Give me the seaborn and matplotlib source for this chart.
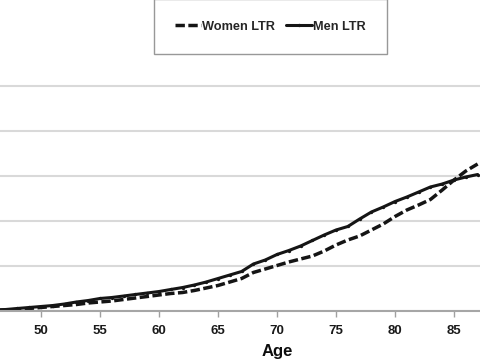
import matplotlib
matplotlib.use("Agg")
import matplotlib.pyplot as plt
import seaborn as sns
import pandas as pd

ages = list(range(46, 88))
women_ltr = [0.011, 0.022, 0.033, 0.056, 0.078, 0.100, 0.122, 0.144, 0.178, 0.200,
             0.222, 0.256, 0.289, 0.322, 0.356, 0.389, 0.411, 0.456, 0.511, 0.567,
             0.644, 0.722, 0.856, 0.933, 1.011, 1.089, 1.156, 1.222, 1.333, 1.467,
             1.578, 1.667, 1.800, 1.933, 2.100, 2.244, 2.356, 2.478, 2.689, 2.911,
             3.111, 3.267]
men_ltr = [0.022, 0.033, 0.056, 0.078, 0.100, 0.122, 0.156, 0.200, 0.233, 0.278,
           0.300, 0.333, 0.367, 0.400, 0.433, 0.478, 0.522, 0.578, 0.644, 0.722,
           0.800, 0.878, 1.044, 1.133, 1.256, 1.344, 1.444, 1.567, 1.689, 1.800,
           1.878, 2.044, 2.200, 2.311, 2.433, 2.533, 2.644, 2.756, 2.822, 2.911,
           2.978, 3.033]
x_ticks = [50, 55, 60, 65, 70, 75, 80, 85]
y_grid = [0, 1, 2, 3, 4, 5]

sns.set_style("white")
plt.rcParams['font.family'] = ['Liberation Sans', 'DejaVu Sans']

fig = plt.figure(figsize=(4.8, 3.6), dpi=100)
ax = fig.add_axes([0.0, 49 / 360, 1.0, 311 / 360])

df_w = pd.DataFrame({"Age": ages, "v": women_ltr})
df_m = pd.DataFrame({"Age": ages, "v": men_ltr})

sns.lineplot(data=df_w, x="Age", y="v", ax=ax, color="#151515", linewidth=2.5,
             label="Women LTR")
sns.lineplot(data=df_m, x="Age", y="v", ax=ax, color="#151515", linewidth=2.2,
             marker="o", markersize=2.4, markeredgewidth=0, label="Men LTR")
ax.lines[0].set_dashes((2.7, 1.0))

ax.set_xlim(46.53, 87.2)
ax.set_ylim(0, 311 / 45)
ax.set_yticks(y_grid)
ax.set_yticklabels([])
ax.tick_params(axis="y", length=0)
ax.yaxis.grid(True, color="#d9d9d9", linewidth=1.5)
ax.set_axisbelow(True)
ax.set_xticks(x_ticks)
ax.set_xticklabels([str(t) for t in x_ticks], fontsize=9.5, fontweight="bold",
                   color="#1a1a1a")
ax.tick_params(axis="x", length=4, width=1, color="#a0a0a0", pad=6, direction="out")
ax.xaxis.set_ticks_position("bottom")
for s in ["top", "left", "right"]:
    ax.spines[s].set_visible(False)
ax.spines["bottom"].set_color("#a6a6a6")
ax.spines["bottom"].set_linewidth(1.5)

ax.set_ylabel("")
ax.set_xlabel("Age", fontsize=12, fontweight="bold", color="#0d0d0d")
ax.xaxis.set_label_coords(277 / 480, -0.105)

leg = ax.legend(loc="center", bbox_to_anchor=(270.5 / 480, 1 - 26.5 / 360),
                bbox_transform=fig.transFigure, ncol=2, frameon=True,
                fancybox=False, edgecolor="#7f7f7f", handlelength=2.0,
                handletextpad=0.1, columnspacing=0.9, borderpad=1.65,
                prop={"weight": "bold", "size": 9.2})
leg.get_frame().set_linewidth(1.0)

fig.savefig("out.png", dpi=100)
